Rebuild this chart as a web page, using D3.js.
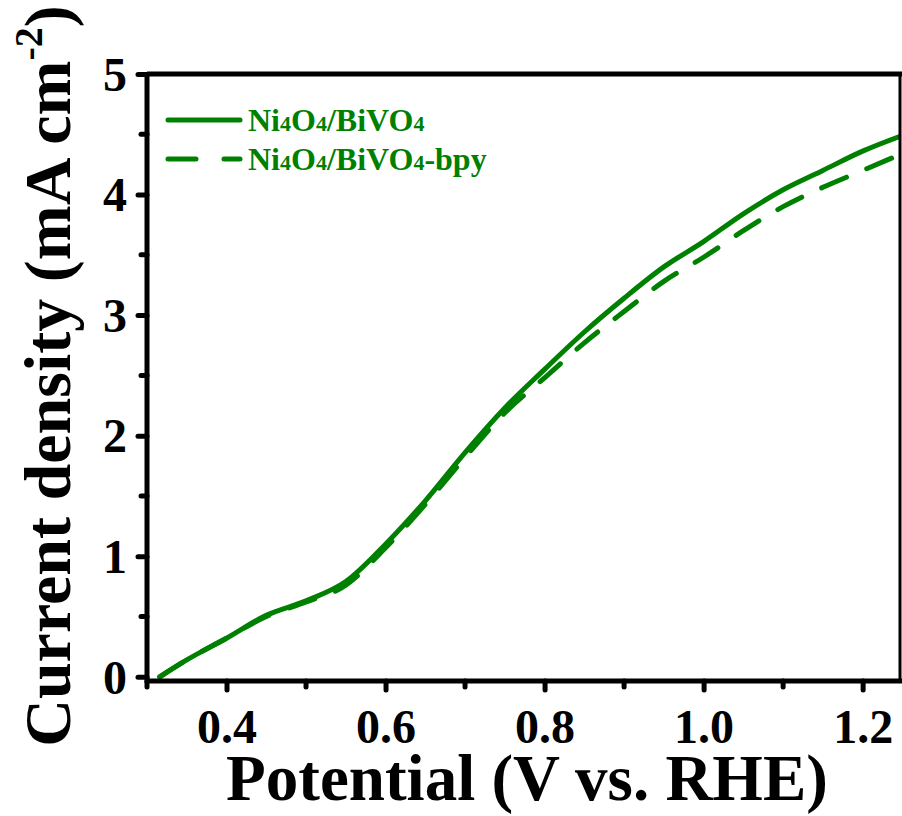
<!DOCTYPE html>
<html>
<head>
<meta charset="utf-8">
<script src="https://cdn.jsdelivr.net/npm/d3@7"></script>
<style>
  body { margin: 0; background: #fff; }
  svg text { font-family: "Liberation Serif", "Times New Roman", serif; font-weight: bold; }
</style>
</head>
<body>
<div id="chart"></div>
<script>
// potential (V vs. RHE) and current density (mA cm-2)
var potential = [0.316, 0.35, 0.40, 0.45, 0.50, 0.55, 0.60, 0.65, 0.70, 0.75, 0.80, 0.85, 0.90, 0.95, 1.00, 1.05, 1.10, 1.15, 1.20, 1.25];
var currentNi = [0.00, 0.14, 0.32, 0.51, 0.63, 0.79, 1.10, 1.46, 1.86, 2.23, 2.55, 2.86, 3.14, 3.40, 3.61, 3.84, 4.04, 4.20, 4.36, 4.49];
var currentBpy = [0.00, 0.14, 0.32, 0.50, 0.62, 0.76, 1.07, 1.43, 1.82, 2.19, 2.48, 2.77, 3.03, 3.28, 3.48, 3.70, 3.90, 4.06, 4.20, 4.34];
var seriesNames = ["Ni4O4/BiVO4", "Ni4O4/BiVO4-bpy"];
var xTicks = [0.4, 0.6, 0.8, 1.0, 1.2];
var xMinor = [0.3, 0.5, 0.7, 0.9, 1.1];
var yTicks = [0, 1, 2, 3, 4, 5];
var yMinor = [0.5, 1.5, 2.5, 3.5, 4.5];

function init() {
  var w = 902, h = 816;
  var left = 147, right = 900, top = 74, bottom = 681;
  var green = "#008000";

  var svg = d3.select("#chart").append("svg")
    .attr("width", w)
    .attr("height", h);

  var x = d3.scaleLinear().domain([0.3, 1.247]).range([left, right]);
  var y = d3.scaleLinear().domain([-0.035, 5]).range([bottom, top]);

  svg.append("clipPath").attr("id", "clip")
    .append("rect")
    .attr("x", left).attr("y", top)
    .attr("width", right - left).attr("height", bottom - top);

  // curves
  var line = d3.line()
    .x(function(d) { return x(d[0]); })
    .y(function(d) { return y(d[1]); })
    .curve(d3.curveMonotoneX);

  var g = svg.append("g").attr("clip-path", "url(#clip)");
  g.append("path")
    .datum(d3.zip(potential, currentBpy))
    .attr("d", line)
    .attr("fill", "none")
    .attr("stroke", green)
    .attr("stroke-width", 5)
    .attr("stroke-linecap", "round")
    .attr("stroke-dasharray", "27,22");
  g.append("path")
    .datum(d3.zip(potential, currentNi))
    .attr("d", line)
    .attr("fill", "none")
    .attr("stroke", green)
    .attr("stroke-width", 5)
    .attr("stroke-linecap", "round");

  // frame: top and right
  svg.append("line").attr("x1", left).attr("x2", right + 2).attr("y1", top).attr("y2", top)
    .attr("stroke", "#000").attr("stroke-width", 5);
  svg.append("line").attr("x1", right).attr("x2", right).attr("y1", top).attr("y2", bottom)
    .attr("stroke", "#000").attr("stroke-width", 3);

  // bottom axis
  var xAxis = svg.append("g").attr("transform", "translate(0," + bottom + ")")
    .call(d3.axisBottom(x).tickValues(xTicks).tickFormat(d3.format(".1f")).tickSize(9).tickSizeOuter(0));
  xAxis.selectAll(".tick line").attr("stroke-width", 5).attr("stroke-linecap", "round");
  xAxis.selectAll(".tick text")
    .attr("font-size", 48).attr("dy", null).attr("y", 0)
    .attr("transform", "translate(0,62)")
    .attr("fill", "#000");
  xAxis.select(".domain").attr("stroke-width", 5).attr("d", "M" + (left - 2) + ",0H" + (right + 2));
  svg.append("g").selectAll("line")
    .data(xMinor).enter().append("line")
    .attr("x1", function(d) { return x(d); })
    .attr("x2", function(d) { return x(d); })
    .attr("y1", bottom).attr("y2", bottom + 6)
    .attr("stroke", "#000").attr("stroke-width", 5).attr("stroke-linecap", "round");

  // left axis
  var yAxis = svg.append("g").attr("transform", "translate(" + left + ",0)")
    .call(d3.axisLeft(y).tickValues(yTicks).tickFormat(d3.format("d")).tickSize(9).tickSizeOuter(0));
  yAxis.selectAll(".tick line").attr("stroke-width", 5).attr("stroke-linecap", "round");
  yAxis.selectAll(".tick text")
    .attr("font-size", 48).attr("font-weight", "normal").attr("x", -20).attr("dy", "0.34em")
    .attr("fill", "#000")
    .style("font-weight", "600");
  yAxis.select(".domain").attr("stroke-width", 5).attr("d", "M0," + (bottom + 2) + "V" + (top - 2));
  svg.append("g").selectAll("line")
    .data(yMinor).enter().append("line")
    .attr("x1", left).attr("x2", left - 6)
    .attr("y1", function(d) { return y(d); })
    .attr("y2", function(d) { return y(d); })
    .attr("stroke", "#000").attr("stroke-width", 5).attr("stroke-linecap", "round");

  // axis titles
  svg.append("text")
    .attr("x", 527).attr("y", 800)
    .attr("text-anchor", "middle")
    .attr("font-size", 65)
    .text("Potential (V vs. RHE)");

  var yt = svg.append("text")
    .attr("transform", "translate(70,376) rotate(-90)")
    .attr("text-anchor", "middle")
    .attr("font-size", 66);
  yt.append("tspan").text("Current density (mA cm");
  yt.append("tspan").attr("font-size", 40).attr("dy", -28).text("-2");
  yt.append("tspan").attr("dy", 28).text(")");

  // legend
  var legend = svg.append("g");
  var rows = [{ y: 120, dash: null }, { y: 159, dash: "28,28" }];
  rows.forEach(function(r, i) {
    legend.append("line")
      .attr("x1", 168).attr("x2", 240).attr("y1", r.y).attr("y2", r.y)
      .attr("stroke", green).attr("stroke-width", 5).attr("stroke-linecap", "round")
      .attr("stroke-dasharray", r.dash);
    var t = legend.append("text")
      .attr("x", 248).attr("y", r.y + 11)
      .attr("font-size", 32).attr("fill", green);
    // small 4s in the names, kept on the baseline
    seriesNames[i].split(/(4)/).forEach(function(part) {
      if (part === "") return;
      t.append("tspan")
        .attr("font-size", part === "4" ? 22 : 32)
        .text(part);
    });
  });
}
window.onload = init;
</script>
</body>
</html>
